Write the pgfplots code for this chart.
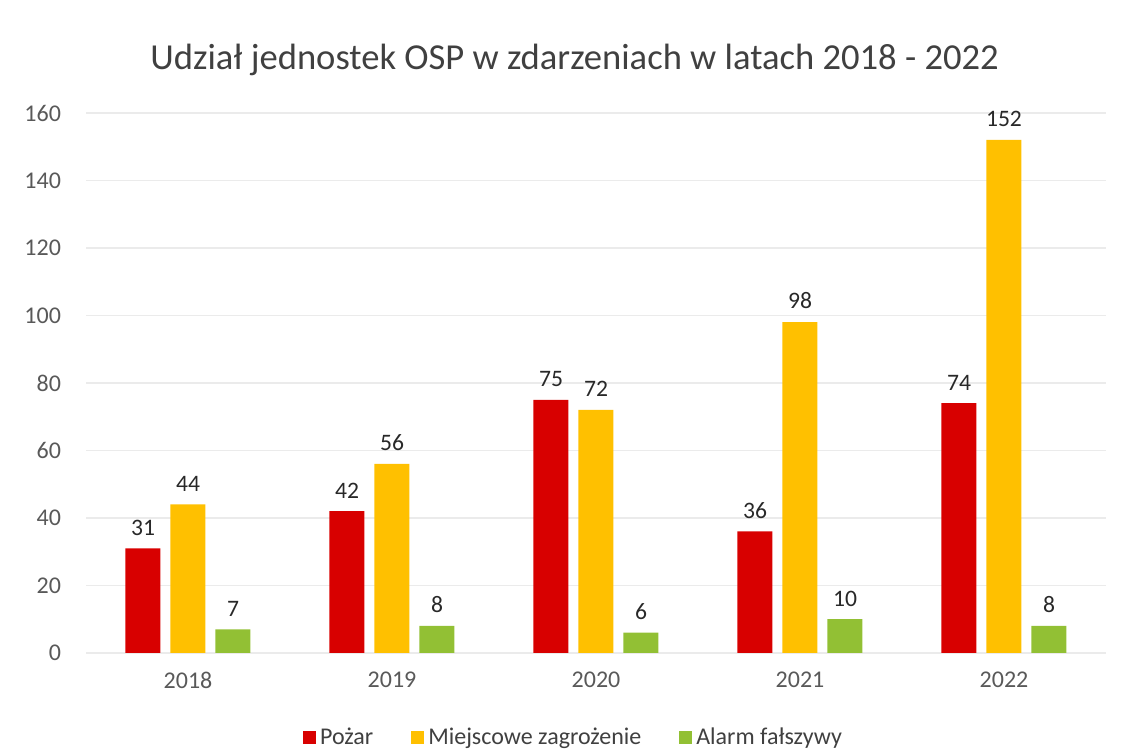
\documentclass[border=0pt]{standalone}
\usepackage{pgfplots}
\pgfplotsset{compat=1.18}
\usepackage{fontspec}
\setmainfont{Carlito}
\definecolor{cred}{RGB}{216,0,0}
\definecolor{corange}{RGB}{255,192,0}
\definecolor{cgreen}{RGB}{146,192,52}
\definecolor{ctick}{RGB}{89,89,89}
\definecolor{clab}{RGB}{40,40,40}
\definecolor{ctitle}{RGB}{64,64,64}
\definecolor{cgrid}{RGB}{235,235,235}
\begin{document}
\begin{tikzpicture}
\begin{axis}[
  name=ax,
  at={(0,0)}, anchor=south west,
  scale only axis,
  width=510pt, height=270pt,
  xmin=-0.5, xmax=4.5, ymin=0, ymax=160,
  xtick={0,1,2,3,4},
  xticklabels={2018,2019,2020,2021,2022},
  ytick={0,20,40,60,80,100,120,140,160},
  axis line style={draw=none},
  major tick length=0pt,
  ymajorgrids, grid style={cgrid, line width=0.6pt},
  tick label style={font=\fontsize{12}{14}\selectfont, text=ctick},
  /pgf/number format/assume math mode=true,
  yticklabel style={xshift=-9pt},
  xticklabel style={yshift=-6pt},
  ybar, bar width=17.5pt,
  nodes near coords,
  nodes near coords style={font=\fontsize{11.8}{13}\selectfont, text=clab, yshift=3pt},
  title={Udział jednostek OSP w zdarzeniach w latach 2018 - 2022},
  title style={font=\fontsize{18.3}{21}\selectfont, text=ctitle, at={(0.479,1)}, anchor=base, yshift=15.5pt},
  legend style={at={(0.479,-0.157)}, anchor=center, draw=none, fill=none,
    font=\fontsize{12}{14}\selectfont, text=ctitle,
    /tikz/every even column/.append style={column sep=17pt}},
  legend columns=3,
  legend image code/.code={\fill[#1] (0pt,-3pt) rectangle (6.5pt,3.5pt);},
  clip=false,
]
\addplot[fill=cred, draw=none, bar shift=-22.5pt] coordinates {(0,31) (1,42) (2,75) (3,36) (4,74)};
\addplot[fill=corange, draw=none, bar shift=0pt] coordinates {(0,44) (1,56) (2,72) (3,98) (4,152)};
\addplot[fill=cgreen, draw=none, bar shift=22.5pt] coordinates {(0,7) (1,8) (2,6) (3,10) (4,8)};
\legend{Pożar, Miejscowe zagrożenie, Alarm fałszywy}
\end{axis}
\path[use as bounding box] (-43pt,-48.5pt) rectangle (519.5pt,326.5pt);
\end{tikzpicture}
\end{document}
